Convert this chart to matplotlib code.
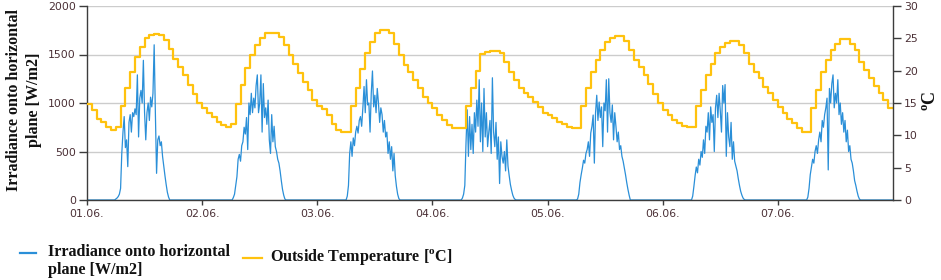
"""
Irradiance onto horizontal plane and outside temperature, 01.06. - 07.06.
Hourly temperature (step line) on the right axis, 15-min irradiance on the left.
"""

import numpy as np
import matplotlib
matplotlib.use("Agg")
import matplotlib.pyplot as plt
from matplotlib.lines import Line2D

plt.rcParams["mathtext.fontset"] = "custom"
plt.rcParams["mathtext.rm"] = "Liberation Serif:bold"

# ========== DATA ==========
day_labels = ["01.06.", "02.06.", "03.06.", "04.06.", "05.06.", "06.06.", "07.06."]

# outside temperature, hourly values (h0 .. h23) per day [deg C]
temp_d1 = [14.8, 13.9, 12.6, 12.0, 11.3, 10.8, 11.3, 14.5, 17.3, 19.8, 22.1, 23.7,
           25.0, 25.5, 25.6, 25.5, 24.7, 23.4, 21.8, 20.6, 19.3, 17.8, 16.4, 15.0]
temp_d2 = [14.3, 13.5, 12.8, 12.1, 11.6, 11.3, 11.7, 14.9, 17.8, 20.4, 22.4, 23.9,
           25.0, 25.8, 25.9, 25.9, 25.2, 24.0, 22.4, 21.1, 19.6, 18.3, 17.0, 15.5]
temp_d3 = [14.6, 14.0, 13.2, 11.8, 10.8, 10.5, 10.5, 14.5, 17.3, 20.2, 22.7, 24.5,
           25.8, 26.3, 26.3, 25.8, 24.2, 22.4, 20.9, 19.8, 18.6, 17.3, 16.0, 15.0]
temp_d4 = [14.2, 13.1, 12.4, 11.6, 11.1, 11.1, 11.1, 14.5, 17.3, 20.0, 22.6, 22.9,
           23.0, 23.0, 22.7, 21.4, 19.8, 18.6, 17.3, 16.6, 16.0, 15.2, 14.4, 13.4]
temp_d5 = [13.2, 12.7, 12.1, 11.7, 11.3, 11.1, 11.2, 14.5, 17.3, 19.8, 21.6, 23.2,
           24.5, 25.0, 25.4, 25.4, 24.6, 23.2, 21.7, 20.5, 19.3, 17.9, 16.4, 15.0]
temp_d6 = [13.9, 13.1, 12.4, 11.9, 11.4, 11.3, 11.3, 14.5, 17.0, 19.3, 21.1, 22.7,
           23.7, 24.3, 24.6, 24.6, 24.0, 22.7, 21.1, 19.8, 18.8, 17.5, 16.5, 15.5]
temp_d7 = [14.4, 13.4, 12.6, 11.9, 11.1, 10.5, 10.5, 14.2, 17.0, 19.8, 21.6, 23.2,
           24.2, 24.9, 24.9, 24.2, 23.2, 21.4, 20.1, 18.8, 17.6, 16.5, 15.5, 14.2]
temp_end = 14.2  # value at 08.06. 00:00

# irradiance onto horizontal plane, 15-min values from 05:30 to 18:00 [W/m2]
irr_start_hour = 5.5
irr_d1 = [0, 0, 10, 20, 35, 60, 120, 480, 700, 860, 540, 620, 344, 800, 880, 700,
          900, 860, 940, 880, 1290, 650, 1050, 1130, 1000, 1440, 900, 620, 900, 1000,
          820, 1060, 960, 1100, 1600, 900, 275, 620, 660, 560, 600, 450, 350, 250,
          160, 80, 30, 0, 0, 0, 0]
irr_d2 = [0, 0, 0, 0, 25, 60, 150, 240, 420, 470, 400, 560, 600, 750, 680, 850,
          520, 1000, 880, 1100, 900, 1050, 950, 1180, 1290, 900, 1000, 1290, 700, 1200,
          850, 950, 780, 1030, 620, 480, 880, 600, 760, 550, 500, 420, 380, 300,
          200, 110, 50, 10, 0, 0, 0]
irr_d3 = [0, 0, 0, 40, 150, 480, 600, 450, 640, 560, 700, 760, 690, 820, 860, 760,
          950, 1170, 900, 1240, 980, 1000, 700, 1100, 1330, 960, 1080, 900, 1150, 1000,
          800, 950, 880, 700, 820, 650, 700, 480, 600, 420, 550, 300, 480, 250,
          140, 60, 15, 0, 0, 0, 0]
irr_d4 = [0, 0, 0, 20, 60, 150, 590, 930, 450, 860, 520, 780, 480, 900, 700, 1030,
          760, 1240, 600, 1000, 500, 1150, 650, 900, 550, 700, 820, 480, 1260, 700,
          550, 800, 420, 650, 170, 600, 450, 380, 500, 300, 620, 350, 250, 160,
          100, 50, 20, 5, 0, 0, 0]
irr_d5 = [0, 0, 0, 10, 60, 180, 260, 330, 410, 380, 480, 520, 600, 450, 690, 760,
          876, 380, 900, 1080, 820, 1010, 850, 960, 550, 1000, 920, 1240, 700, 1250,
          900, 800, 980, 620, 900, 760, 600, 700, 520, 560, 450, 400, 330, 260,
          180, 110, 50, 0, 0, 0, 0]
irr_d6 = [0, 0, 0, 40, 140, 250, 340, 280, 420, 360, 500, 440, 620, 480, 760, 700,
          900, 620, 960, 800, 880, 500, 950, 1080, 850, 1100, 920, 700, 1180, 1000,
          1190, 450, 900, 650, 550, 800, 420, 600, 400, 350, 300, 220, 150, 90,
          50, 20, 5, 0, 0, 0, 0]
irr_d7 = [0, 0, 0, 30, 120, 260, 340, 420, 380, 500, 560, 480, 620, 700, 600, 820,
          750, 880, 950, 1050, 310, 1150, 1000, 1200, 1290, 950, 1100, 1000, 1240, 880,
          1000, 780, 900, 700, 820, 600, 720, 500, 560, 420, 380, 300, 200, 150,
          90, 40, 10, 0, 0, 0, 0]

temp_days = [temp_d1, temp_d2, temp_d3, temp_d4, temp_d5, temp_d6, temp_d7]
irr_days = [irr_d1, irr_d2, irr_d3, irr_d4, irr_d5, irr_d6, irr_d7]

# ========== SERIES (time axis in days) ==========
temp_t = []
temp_v = []
for d, vals in enumerate(temp_days):
    temp_t.extend(d + np.arange(len(vals)) / 24.0)
    temp_v.extend(vals)
temp_t.append(len(temp_days))
temp_v.append(temp_end)

irr_t = [0.0]
irr_v = [0]
for d, vals in enumerate(irr_days):
    irr_t.extend(d + (irr_start_hour + 0.25 * np.arange(len(vals))) / 24.0)
    irr_v.extend(vals)
irr_t.append(len(irr_days))
irr_v.append(0)

# ========== PLOT ==========
BLUE = "#2a8fd8"
YELLOW = "#ffc20e"
TICK_COL = "#4a2f35"
AXIS_COL = "#3c3c3c"
serif_bold = dict(family="Liberation Serif", weight="bold", color="#111111")

fig = plt.figure(figsize=(9.41, 2.80), dpi=100)
ax = fig.add_axes([87 / 941, 1 - 200 / 280, (893 - 87) / 941, 194 / 280])
ax2 = ax.twinx()

ax.plot(irr_t, irr_v, color=BLUE, linewidth=0.9)
ax2.plot(temp_t, temp_v, color=YELLOW, linewidth=1.6, drawstyle="steps-post")

ax.set_xlim(0, 7)
ax.set_ylim(0, 2000)
ax2.set_ylim(0, 30)
ax.set_yticks([0, 500, 1000, 1500, 2000])
ax2.set_yticks([0, 5, 10, 15, 20, 25, 30])
ax.set_xticks(range(len(day_labels)))
ax.set_xticklabels(day_labels)

ax.grid(axis="y", color="#cccccc", linewidth=1.0)
ax.set_axisbelow(True)

for a in (ax, ax2):
    a.spines["top"].set_visible(False)
    for side in ("left", "right", "bottom"):
        a.spines[side].set_color(AXIS_COL)
        a.spines[side].set_linewidth(1.0)
ax.spines["right"].set_visible(False)
ax2.spines["left"].set_visible(False)
ax2.spines["bottom"].set_visible(False)

ax.tick_params(axis="y", length=6, width=1, color=AXIS_COL, pad=2,
               labelsize=7.8, labelcolor=TICK_COL)
ax.tick_params(axis="x", length=3.5, width=1, color=AXIS_COL, pad=3,
               labelsize=7.8, labelcolor=TICK_COL)
ax2.tick_params(axis="y", length=6, width=1, color=AXIS_COL, pad=2,
                labelsize=7.8, labelcolor=TICK_COL)

# axis titles
fig.text(24 / 941, 1 - 100 / 280, "Irradiance onto horizontal\nplane [W/m2]",
         rotation=90, ha="center", va="center", multialignment="center",
         fontsize=11.6, linespacing=1.35, **serif_bold)
fig.text(931 / 941, 1 - 101 / 280, r"$^{\mathrm{o}}$C", rotation=90,
         ha="center", va="center", fontsize=13, **serif_bold)

# legend below the chart
fig.add_artist(Line2D([20 / 941, 36 / 941], [1 - 253 / 280] * 2,
                      color=BLUE, linewidth=1.6, transform=fig.transFigure))
fig.text(48 / 941, 1 - 261 / 280, "Irradiance onto horizontal\nplane [W/m2]",
         ha="left", va="center", fontsize=11.6, linespacing=1.2, **serif_bold)
fig.add_artist(Line2D([243 / 941, 262 / 941], [1 - 258 / 280] * 2,
                      color=YELLOW, linewidth=1.6, transform=fig.transFigure))
fig.text(270 / 941, 1 - 257 / 280, r"Outside Temperature [$^{\mathrm{o}}$C]",
         ha="left", va="center", fontsize=11.6, **serif_bold)

fig.savefig("out.png", dpi=100)
